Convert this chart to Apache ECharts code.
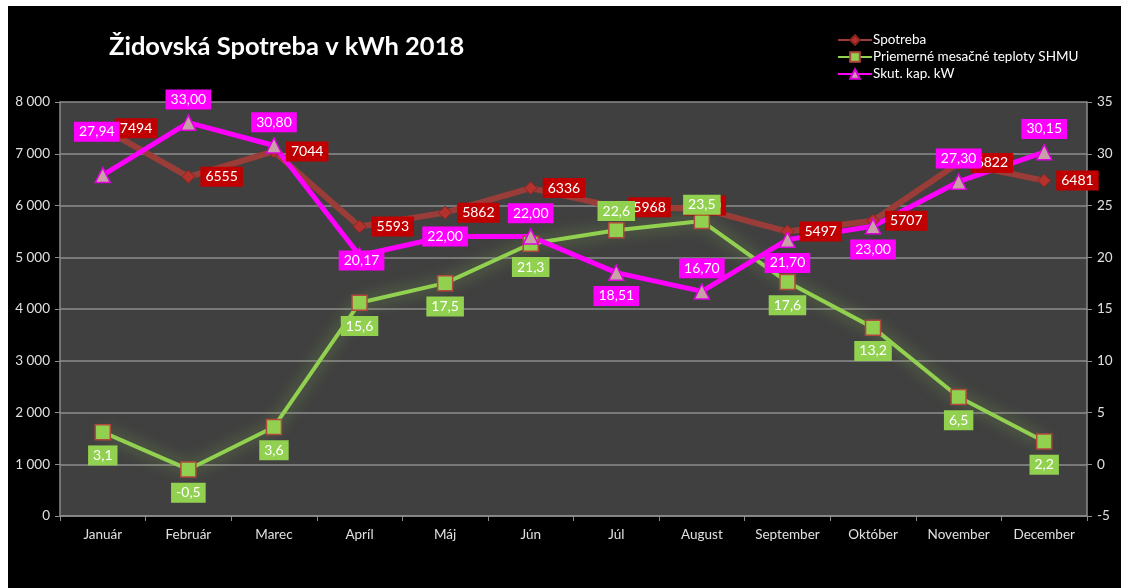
<!DOCTYPE html>
<html>
<head>
<meta charset="utf-8">
<script src="https://cdn.jsdelivr.net/npm/echarts@6/dist/echarts.min.js"></script>
<style>
  html, body { margin: 0; padding: 0; background: #fff; }
  #chart { position: absolute; left: 8px; top: 6px; width: 1113px; height: 582px; }
</style>
</head>
<body>
<div id="chart"></div>
<script>
var months = ['Január', 'Február', 'Marec', 'Apríl', 'Máj', 'Jún', 'Júl', 'August', 'September', 'Október', 'November', 'December'];
var spotreba = [7494, 6555, 7044, 5593, 5862, 6336, 5968, 5940, 5497, 5707, 6822, 6481];
var teploty = [3.1, -0.5, 3.6, 15.6, 17.5, 21.3, 22.6, 23.5, 17.6, 13.2, 6.5, 2.2];
var skutKap = [27.94, 33.00, 30.80, 20.17, 22.00, 22.00, 18.51, 16.70, 21.70, 23.00, 27.30, 30.15];
var seriesNames = ['Spotreba', 'Priemerné mesačné teploty SHMU', 'Skut. kap. kW'];
var leftAxis = { min: 0, max: 8000, step: 1000 };
var rightAxis = { min: -5, max: 35, step: 5 };

// label placement per point (kept apart from the values)
var spotrebaPos = ['right', 'right', 'right', 'right', 'right', 'right', 'right', 'inside', 'right', 'right', 'right', 'right'];
var teplotyPos = ['bottom', 'bottom', 'bottom', 'bottom', 'bottom', 'bottom', 'top', 'top', 'bottom', 'bottom', 'bottom', 'bottom'];
var skutPos = ['top', 'top', 'top', 'inside', 'inside', 'top', 'bottom', 'top', 'bottom', 'bottom', 'top', 'top'];

var FONT = 'Lato, "Open Sans", sans-serif';

function comma(v, d) { return v.toFixed(d).replace('.', ','); }
function thousands(v) { return String(v).replace(/\B(?=(\d{3})+(?!\d))/g, ' '); }

function items(values, positions, extra) {
  return values.map(function (v, i) {
    var lab = { position: positions[i] };
    if (extra && extra[i]) {
      for (var k in extra[i]) lab[k] = extra[i][k];
    }
    return { value: v, label: lab };
  });
}

function boxLabel(bg, fmt) {
  return {
    show: true,
    color: '#fff',
    fontFamily: FONT,
    fontSize: 14,
    backgroundColor: bg,
    padding: [2, 5, 2, 5],
    lineHeight: 16,
    distance: 5,
    formatter: fmt
  };
}

var chart = echarts.init(document.getElementById('chart'));

var option = {
  backgroundColor: '#000',
  animation: false,
  title: {
    text: 'Židovská Spotreba v kWh 2018',
    left: 96, top: 23,
    textStyle: { color: '#fff', fontFamily: FONT, fontWeight: 'bold', fontSize: 25.5 }
  },
  legend: {
    data: seriesNames,
    orient: 'vertical',
    left: 824, top: 22,
    itemWidth: 34, itemHeight: 12, itemGap: 3,
    textStyle: { color: '#fff', fontFamily: FONT, fontSize: 13.5, padding: [0, 0, 0, -4] }
  },
  grid: {
    left: 52, right: 34, top: 96, bottom: 72,
    show: true, backgroundColor: '#404040', borderWidth: 0
  },
  xAxis: {
    type: 'category',
    data: months,
    boundaryGap: true,
    axisLine: { lineStyle: { color: '#8c8c8c', width: 1.5 } },
    axisTick: { show: true, length: 5, lineStyle: { color: '#8c8c8c' } },
    axisLabel: { color: '#e0e0e0', fontFamily: FONT, fontSize: 13.5, margin: 12 }
  },
  yAxis: [{
    type: 'value',
    min: leftAxis.min, max: leftAxis.max, interval: leftAxis.step,
    axisLine: { show: true, lineStyle: { color: '#8c8c8c', width: 1.5 } },
    axisTick: { show: true, length: 5, lineStyle: { color: '#8c8c8c' } },
    splitLine: { lineStyle: { color: '#8c8c8c', width: 1.5 } },
    axisLabel: { color: '#e0e0e0', fontFamily: FONT, fontSize: 13.5, margin: 10, formatter: thousands }
  }, {
    type: 'value',
    min: rightAxis.min, max: rightAxis.max, interval: rightAxis.step,
    axisLine: { show: true, lineStyle: { color: '#8c8c8c', width: 1.5 } },
    axisTick: { show: true, length: 5, lineStyle: { color: '#8c8c8c' } },
    splitLine: { show: false },
    axisLabel: { color: '#e0e0e0', fontFamily: FONT, fontSize: 13.5, margin: 10 }
  }],
  series: [{
    name: seriesNames[0],
    type: 'line',
    yAxisIndex: 0,
    symbol: 'diamond', symbolSize: 13,
    lineStyle: { color: '#9a3c38', width: 6 },
    itemStyle: { color: '#b4322e', borderColor: '#8a2420', borderWidth: 1 },
    label: boxLabel('#c00000', function (p) { return String(p.value); }),
    data: items(spotreba, spotrebaPos, { 7: { offset: [3, -3] } })
  }, {
    name: seriesNames[1],
    type: 'line',
    yAxisIndex: 1,
    symbol: 'rect', symbolSize: 15,
    lineStyle: { color: '#92d050', width: 4, shadowBlur: 16, shadowColor: 'rgba(146,208,80,0.6)' },
    itemStyle: { color: '#92d050', borderColor: '#b2473f', borderWidth: 1.5 },
    label: boxLabel('#92d050', function (p) { return comma(p.value, 1); }),
    data: items(teploty, teplotyPos, { 6: { distance: 1 }, 7: { distance: -2 } })
  }, {
    name: seriesNames[2],
    type: 'line',
    yAxisIndex: 1,
    symbol: 'triangle', symbolSize: 15,
    lineStyle: { color: '#ff00ff', width: 5 },
    itemStyle: { color: '#c9a0a8', borderColor: '#e000e0', borderWidth: 1.5 },
    label: boxLabel('#ff00ff', function (p) { return comma(p.value, 2); }),
    data: items(skutKap, skutPos, { 0: { distance: 25, offset: [-6, 0] }, 3: { offset: [2, 5] } })
  }]
};

chart.setOption(option);
</script>
</body>
</html>
